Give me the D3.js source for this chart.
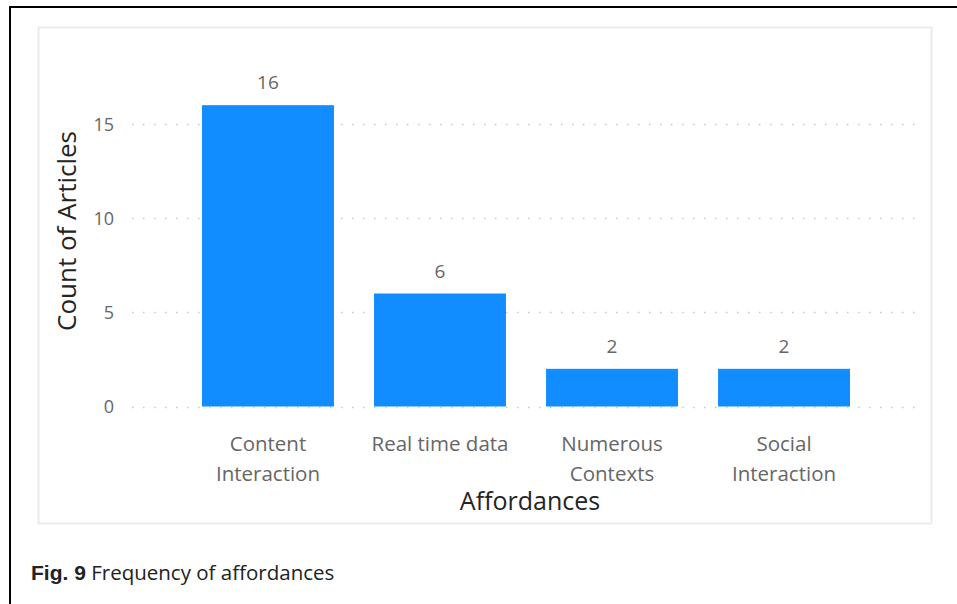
<!DOCTYPE html>
<html>
<head>
<meta charset="utf-8">
<script src="https://cdn.jsdelivr.net/npm/d3@7"></script>
<style>
  html, body { margin: 0; padding: 0; background: #fff; }
  svg { display: block; }
</style>
</head>
<body>
<svg id="chart" width="957" height="604"></svg>
<script>
const categories = ["Content Interaction", "Real time data", "Numerous Contexts", "Social Interaction"];
const categoryLines = [["Content", "Interaction"], ["Real time data"], ["Numerous", "Contexts"], ["Social", "Interaction"]];
const values = [16, 6, 2, 2];
const yTicks = [0, 5, 10, 15];
const xTitle = "Affordances";
const yTitle = "Count of Articles";
const captionBold = "Fig. 9";
const captionText = " Frequency of affordances";

const svg = d3.select("#chart");
const font = "'Open Sans', 'Noto Sans', sans-serif";

// outer figure frame (open at right/bottom, as cropped)
svg.append("path")
  .attr("d", "M10,604 L10,7 L957,7")
  .attr("fill", "none").attr("stroke", "#000").attr("stroke-width", 2);

// inner visual panel
svg.append("rect")
  .attr("x", 38.5).attr("y", 27.5).attr("width", 893).attr("height", 496)
  .attr("fill", "#fff").attr("stroke", "#ebebeb").attr("stroke-width", 2);

const x = d3.scaleBand().domain(categories).range([132, 920]).paddingInner(0.233).paddingOuter(0.407);
const y = d3.scaleLinear().domain([0, 15]).range([406.5, 124]);

// gridlines (dotted)
const grid = svg.append("g");
grid.selectAll("line").data(yTicks).join("line")
  .attr("x1", 132).attr("x2", 920)
  .attr("y1", d => Math.round(y(d)) + 0.5).attr("y2", d => Math.round(y(d)) + 0.5)
  .attr("stroke", "#c8c8c8").attr("stroke-width", 1.5)
  .attr("stroke-dasharray", "1.5,9.5");

// y axis
const yAxis = svg.append("g").attr("transform", "translate(114,0)")
  .call(d3.axisLeft(y).tickValues(yTicks).tickSize(0).tickPadding(0));
yAxis.select(".domain").remove();
yAxis.selectAll("text")
  .attr("font-family", font).attr("font-size", 18).attr("fill", "#666").attr("dy", "0.36em");

// bars
svg.append("g").selectAll("rect").data(values).join("rect")
  .attr("x", (d, i) => x(categories[i]))
  .attr("width", x.bandwidth())
  .attr("y", d => y(d))
  .attr("height", d => y(0) - y(d))
  .attr("fill", "#118DFF");

// data labels
svg.append("g").selectAll("text").data(values).join("text")
  .attr("x", (d, i) => x(categories[i]) + x.bandwidth() / 2)
  .attr("y", d => y(d) - 16)
  .attr("text-anchor", "middle")
  .attr("font-family", font).attr("font-size", 19).attr("fill", "#666")
  .text(d => d);

// x axis labels
const xAxis = svg.append("g").attr("transform", "translate(0,406)")
  .call(d3.axisBottom(x).tickSize(0).tickFormat(""));
xAxis.select(".domain").remove();
xAxis.selectAll(".tick").each(function(d, i) {
  const t = d3.select(this).append("text")
    .attr("text-anchor", "middle")
    .attr("font-family", font).attr("font-size", 20.5).attr("fill", "#666");
  categoryLines[i].forEach((ln, j) => {
    t.append("tspan").attr("x", 0).attr("y", 45 + j * 30).text(ln);
  });
});

// axis titles
svg.append("text")
  .attr("x", 530).attr("y", 510)
  .attr("text-anchor", "middle")
  .attr("font-family", font).attr("font-size", 25).attr("fill", "#252423")
  .text(xTitle);

svg.append("text")
  .attr("transform", "translate(76,231) rotate(-90)")
  .attr("text-anchor", "middle")
  .attr("font-family", font).attr("font-size", 26).attr("fill", "#252423")
  .text(yTitle);

// caption
const cap = svg.append("text").attr("x", 31).attr("y", 580)
  .attr("fill", "#222");
cap.append("tspan").attr("font-family", "'Liberation Sans', Arial, sans-serif").attr("font-weight", "bold").attr("font-size", 21).text(captionBold);
cap.append("tspan").attr("font-family", "'Open Sans', sans-serif").attr("font-size", 20.5).text(captionText);
</script>
</body>
</html>
